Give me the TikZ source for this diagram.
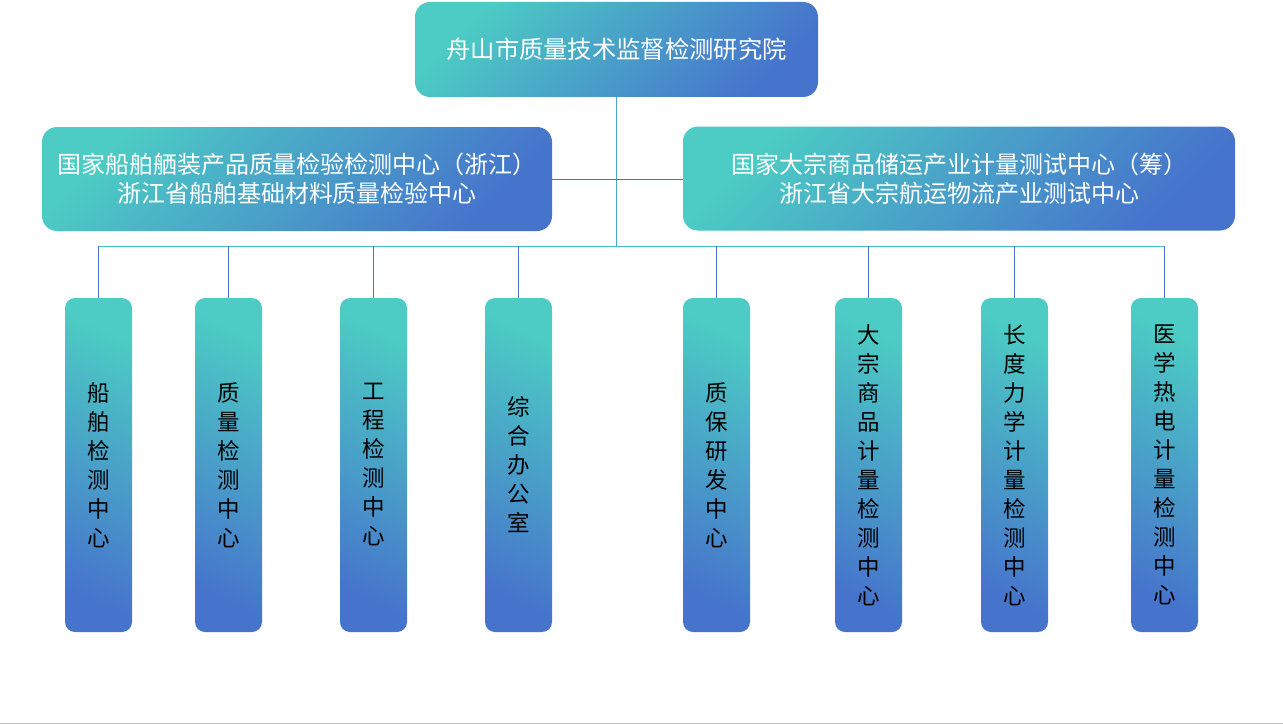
\documentclass[tikz,border=0pt]{standalone}
\usepackage{fontspec}
\newfontfamily\cjk{Noto Sans CJK SC}
\definecolor{cteal}{RGB}{76,204,196}
\definecolor{cblue}{RGB}{70,116,204}
\definecolor{lteal}{RGB}{72,190,196}
\definecolor{lblue}{RGB}{70,118,204}
\definecolor{lmid}{RGB}{72,168,200}
\tikzset{
  hbox/.style={rounded corners=15pt, top color=cteal, bottom color=cblue, shading angle=45,
    draw=none, inner sep=0pt, text=white, align=center,
    font=\cjk\fontsize{24}{29}\selectfont},
  vbox/.style={rounded corners=10pt, top color=cteal, bottom color=cblue, shading angle=-25,
    draw=none, inner sep=0pt, text=black, align=center, minimum width=67pt, minimum height=334pt,
    font=\cjk\fontsize{22.5}{29}\selectfont},
  conn/.style={line width=1pt, draw=lblue},
  bar/.style={line width=1pt, draw=lteal}
}
\begin{document}
\begin{tikzpicture}[x=1pt,y=-1pt]
\useasboundingbox (0,0) rectangle (1283,725);
\fill[white] (0,0) rectangle (1283,725);
\draw[line width=1.5pt, draw={rgb,255:red,196;green,198;blue,198}] (0,723.5) -- (1283,723.5);

\coordinate (j) at (616.5,246);
\coordinate (jl) at (98.5,246);
\coordinate (jr) at (1164.5,246);

\node[hbox, minimum width=403pt, minimum height=95pt, font=\cjk\fontsize{24.3}{29}\selectfont] (top) at (616.5,49.5) {舟山市质量技术监督检测研究院};
\node[hbox, minimum width=510pt, minimum height=104pt] (L) at (297,179) {国家船舶舾装产品质量检验检测中心（浙江）\\浙江省船舶基础材料质量检验中心};
\node[hbox, minimum width=552pt, minimum height=104pt] (R) at (959,178.5) {国家大宗商品储运产业计量测试中心（筹）\\浙江省大宗航运物流产业测试中心};

\node[vbox] (v1) at (98.5,465) {船\\舶\\检\\测\\中\\心};
\node[vbox] (v2) at (228.5,465) {质\\量\\检\\测\\中\\心};
\node[vbox] (v3) at (373.5,465) {工\\程\\检\\测\\中\\心};
\node[vbox] (v4) at (518.5,465) {综\\合\\办\\公\\室};
\node[vbox] (v5) at (716.5,465) {质\\保\\研\\发\\中\\心};
\node[vbox] (v6) at (868.5,465) {大\\宗\\商\\品\\计\\量\\检\\测\\中\\心};
\node[vbox] (v7) at (1014.5,465) {长\\度\\力\\学\\计\\量\\检\\测\\中\\心};
\node[vbox] (v8) at (1164.5,465) {医\\学\\热\\电\\计\\量\\检\\测\\中\\心};

\draw[line width=1pt, draw=lmid] (top.south) -- (j);
\draw[conn] (L.east) -- (L.east -| R.west);
\draw[bar] (jl) -- (jr);
\foreach \v in {v1,v2,v3,v4,v5,v6,v7,v8}{
  \draw[conn] (\v.north) -- (\v.north |- j);
}
\end{tikzpicture}
\end{document}
